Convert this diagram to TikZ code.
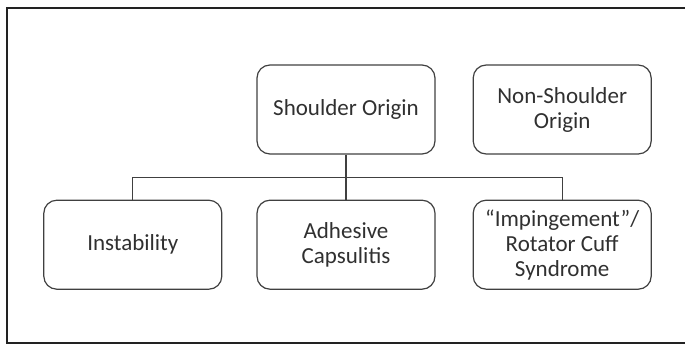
\documentclass[tikz,border=0pt]{standalone}
\usepackage{fontspec}
\setmainfont{Carlito}
\usepackage{xcolor}
\usetikzlibrary{positioning}

\definecolor{boxline}{HTML}{404040}
\definecolor{textgray}{HTML}{303030}
\definecolor{framegray}{HTML}{222222}

\begin{document}
\begin{tikzpicture}[x=1pt, y=-1pt]

\tikzstyle{block}=[rectangle,draw=boxline,line width=1.2pt,rounded corners=13pt,minimum width=178pt,minimum height=89pt,inner sep=2pt,align=center,text=textgray,font=\fontsize{23}{25}\selectfont]
\tikzstyle{line}=[draw=boxline, line width=1.2pt]

\useasboundingbox (0,0) rectangle (685,345);

% outer frame, open on the right
\draw[framegray, line width=2.2pt] (700,8) -- (7,8) -- (7,343) -- (700,343);

\node (shoulder) [block] at (346,109.5) {Shoulder Origin};
\node (nonshoulder) [block,right=37pt of shoulder] {Non-Shoulder\\Origin};

\node (adhesive) [block,below=45pt of shoulder] {Adhesive\\Capsulitis};
\node (instability) [block,left=34pt of adhesive] {Instability};
\node (rotator) [block,right=37pt of adhesive] {“Impingement”/\\Rotator Cuff\\Syndrome};

% Connections
\draw[line] (shoulder.south) -- (adhesive.north);
\draw[line] (instability.north) |- ([yshift=22pt]adhesive.north) -| (rotator.north);

\end{tikzpicture}
\end{document}
